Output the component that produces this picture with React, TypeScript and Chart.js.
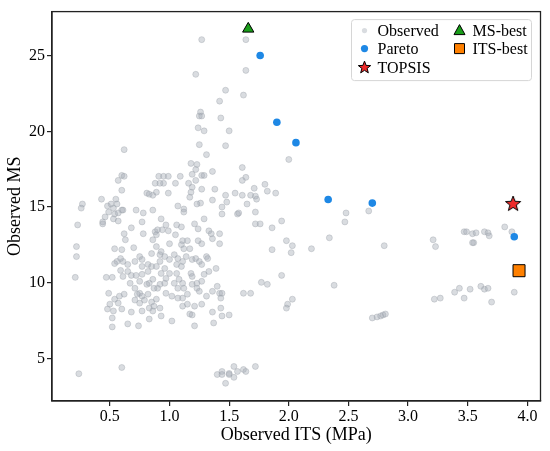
import { useEffect, useRef } from "react"
import { Chart, registerables } from "chart.js"

Chart.register(...registerables)

// observed designs, [ITS (MPa), MS]
const observed: [number, number][] = [
  [1.27, 26.05], [1.64, 26.05], [1.22, 23.76], [1.64, 24.02], [1.47, 22.71], [1.62, 22.39], [1.42, 21.99],
  [1.43, 20.88], [1.26, 21.27], [1.25, 21.01], [1.27, 21.01], [1.24, 20.23], [1.29, 20.03], [1.5, 20.03],
  [0.62, 18.79], [0.6, 17.09], [0.62, 17.03], [0.57, 16.76], [0.6, 16.11], [0.81, 15.92], [0.83, 15.85],
  [0.86, 15.78], [0.89, 15.98], [0.88, 16.57], [0.91, 17.03], [0.43, 15.52], [0.27, 15.2], [0.26, 14.93],
  [0.55, 15.52], [0.51, 15.2], [0.48, 15.07], [0.53, 14.93], [0.56, 15.2], [0.61, 14.8], [0.6, 14.8],
  [0.57, 14.61], [0.54, 14.54], [0.49, 14.67], [0.46, 14.35], [0.44, 14.02], [0.44, 13.89], [0.53, 14.22],
  [0.57, 14.08], [0.72, 14.8], [0.78, 14.61], [0.86, 14.8], [0.77, 14.02], [0.68, 13.63], [0.62, 13.24],
  [0.63, 12.84], [0.78, 13.24], [0.88, 13.37], [0.9, 13.5], [0.89, 13.17], [0.86, 12.84], [0.23, 13.82],
  [1.25, 19.12], [1.47, 19.05], [1.31, 18.46], [1.18, 17.88], [1.23, 17.81], [1.22, 17.48], [1.36, 17.35],
  [1.27, 17.09], [1.29, 17.09], [1.19, 17.16], [1.61, 17.61], [1.64, 16.96], [1.61, 16.76], [0.95, 17.03],
  [0.99, 17.03], [0.95, 16.57], [0.92, 16.57], [1.05, 16.57], [1.09, 17.03], [1.16, 16.57], [1.22, 16.76],
  [1.19, 16.31], [1.18, 15.98], [1.17, 15.65], [1.27, 16.18], [1.38, 16.18], [0.99, 15.92], [1.47, 15.78],
  [1.55, 15.92], [1.61, 15.78], [1.68, 15.78], [1.71, 16.24], [1.72, 15.72], [1.73, 15.52], [1.65, 15.2],
  [1.48, 15.33], [1.44, 15.0], [1.36, 15.46], [1.26, 15.26], [1.23, 15.2], [1.07, 15.07], [1.12, 14.87],
  [1.12, 14.67], [1.44, 14.54], [1.57, 14.54], [1.58, 14.61], [1.72, 14.67], [0.93, 14.22], [1.29, 14.22],
  [1.21, 13.89], [1.24, 13.56], [1.33, 13.43], [1.35, 13.24], [1.42, 13.24], [0.97, 13.82], [1.06, 13.82],
  [1.1, 13.69], [0.94, 13.5], [0.99, 13.43], [1.05, 13.17], [1.11, 12.78], [1.15, 12.78], [1.24, 12.78],
  [1.36, 12.91], [1.72, 13.89],
  [1.8, 16.5], [1.82, 16.05], [1.89, 15.92], [1.76, 13.89], [1.86, 13.63], [1.94, 14.08], [1.98, 12.78],
  [2.03, 12.45], [2.02, 11.99], [1.86, 12.19], [2.19, 12.25], [1.94, 10.49], [1.77, 10.03], [1.82, 9.9],
  [1.62, 9.31], [1.68, 9.31], [2.03, 8.92], [1.99, 8.59], [1.98, 8.33],
  [2.0, 18.14], [2.48, 14.61], [2.47, 14.02], [2.67, 14.74], [3.81, 13.69],
  [2.34, 12.97], [2.8, 12.45], [3.21, 12.84], [3.23, 12.39], [3.47, 13.37], [3.49, 13.37], [3.54, 13.24],
  [3.57, 13.3], [3.55, 12.65], [3.54, 12.65], [3.64, 13.37], [3.67, 13.3], [3.68, 13.1], [3.87, 13.37],
  [2.38, 9.84], [2.7, 7.68], [2.74, 7.75], [2.77, 7.81], [2.79, 7.88], [2.81, 7.94], [3.22, 8.92],
  [3.27, 8.99], [3.39, 9.38], [3.43, 9.64], [3.47, 8.99], [3.52, 9.58], [3.61, 9.77], [3.64, 9.58],
  [3.67, 9.64], [3.7, 8.73], [3.89, 9.38],
  [0.22, 12.39], [0.22, 11.73], [0.21, 10.36], [0.54, 12.25], [0.6, 12.19], [0.7, 12.32], [0.89, 12.39],
  [0.92, 11.86], [0.85, 11.93], [0.75, 11.73], [0.77, 11.54], [0.77, 11.08], [0.71, 11.41], [0.65, 11.21],
  [0.61, 11.41], [0.59, 11.6], [0.56, 11.41], [0.54, 11.27], [0.59, 10.82], [0.65, 10.75], [0.61, 10.42],
  [0.68, 10.49], [0.72, 10.49], [0.82, 11.21], [0.85, 11.08], [0.89, 11.08], [0.82, 10.75], [0.77, 10.56],
  [0.86, 10.23], [0.83, 9.97], [0.81, 9.9], [0.92, 9.9], [0.9, 9.64], [0.87, 9.64], [0.75, 10.1],
  [0.71, 9.64], [0.67, 9.97], [0.62, 9.25], [0.58, 9.12], [0.54, 8.92], [0.57, 8.66], [0.5, 8.59],
  [0.47, 10.36], [0.52, 10.36], [0.49, 9.31], [0.75, 9.31], [0.73, 9.25], [0.77, 9.12], [0.82, 9.25],
  [0.79, 8.86], [0.85, 8.73], [0.89, 8.92], [0.71, 8.86], [0.75, 8.66], [0.83, 8.33], [0.87, 8.46],
  [0.48, 8.27], [0.53, 8.14], [0.6, 8.27], [0.68, 8.07], [0.77, 8.14], [0.86, 8.14], [0.52, 7.68],
  [0.65, 7.29], [0.74, 7.16], [0.52, 7.09], [0.83, 7.61],
  [1.0, 12.58], [1.1, 12.52], [1.12, 12.25], [1.17, 12.25], [1.27, 12.58], [1.42, 12.58], [0.93, 12.06],
  [0.96, 11.73], [0.92, 11.41], [1.0, 11.54], [1.04, 11.86], [1.06, 11.21], [1.07, 11.6], [1.11, 11.41],
  [1.1, 11.08], [1.14, 11.73], [1.19, 11.54], [1.22, 11.6], [1.25, 11.41], [1.31, 11.73], [1.32, 11.6],
  [1.27, 11.21], [1.29, 10.56], [1.33, 10.75], [1.39, 10.95], [1.18, 10.62], [1.19, 10.42], [0.96, 10.95],
  [0.93, 10.62], [1.0, 10.62], [0.97, 10.29], [1.06, 10.62], [1.04, 9.97], [1.08, 10.23], [1.11, 9.97],
  [1.12, 9.64], [1.07, 9.64], [0.96, 9.97], [0.97, 9.31], [1.02, 9.12], [1.07, 8.99], [1.11, 8.99],
  [1.15, 9.25], [1.19, 9.9], [1.23, 9.97], [1.27, 10.1], [1.23, 9.64], [1.25, 9.44], [1.31, 9.12],
  [1.36, 9.44], [1.4, 9.77], [1.42, 9.31], [1.44, 9.31], [1.43, 8.99], [1.11, 8.46], [1.15, 8.59],
  [1.21, 8.46], [1.27, 8.59], [1.43, 8.33], [1.44, 7.81], [1.5, 7.88], [1.36, 8.07], [1.17, 7.94],
  [1.19, 7.88], [1.02, 7.48], [1.37, 7.35], [1.21, 7.16], [0.93, 7.81], [0.92, 8.33],
  [0.24, 4.0], [0.6, 4.41], [1.4, 3.95], [1.44, 4.15], [1.44, 3.95], [1.5, 4.02], [1.5, 3.95],
  [1.54, 4.48], [1.54, 3.76], [1.57, 4.15], [1.62, 4.28], [1.64, 4.15], [1.72, 4.48], [1.47, 3.37],
]

const pareto: [number, number][] = [
  [1.76, 25.0], [1.9, 20.6], [2.06, 19.25], [2.33, 15.5], [2.7, 15.26], [3.89, 13.04],
]
const topsis: [number, number] = [3.88, 15.2]
const msBest: [number, number] = [1.66, 26.76]
const itsBest: [number, number] = [3.93, 10.8]

const xTicks = [0.5, 1.0, 1.5, 2.0, 2.5, 3.0, 3.5, 4.0]
const yTicks = [5, 10, 15, 20, 25]

const FONT = "'Liberation Serif', 'Times New Roman', serif"
const GRAY = "rgba(165,172,180,0.42)"
const GRAY_EDGE = "rgba(150,157,165,0.45)"
const BLUE = "#1E88E5"
const RED = "#EE2A2A"
const GREEN = "#1A9E1A"
const ORANGE = "#FF8000"

const toPts = (arr: [number, number][]) => arr.map(([x, y]) => ({ x, y }))

function starPath(ctx: CanvasRenderingContext2D, cx: number, cy: number, R: number) {
  const r = R * 0.42
  ctx.beginPath()
  for (let i = 0; i < 10; i++) {
    const a = -Math.PI / 2 + (i * Math.PI) / 5
    const rad = i % 2 === 0 ? R : r
    const px = cx + Math.cos(a) * rad
    const py = cy + Math.sin(a) * rad
    if (i === 0) ctx.moveTo(px, py)
    else ctx.lineTo(px, py)
  }
  ctx.closePath()
}

function makeStar(R: number) {
  const c = document.createElement("canvas")
  const s = Math.ceil(R * 2 + 4)
  c.width = s
  c.height = s
  const ctx = c.getContext("2d")!
  starPath(ctx, s / 2, s / 2, R)
  ctx.fillStyle = RED
  ctx.fill()
  ctx.lineWidth = 1
  ctx.strokeStyle = "#000"
  ctx.stroke()
  return c
}

const framePlugin = {
  id: "frame",
  afterDatasetsDraw(chart: Chart) {
    const { ctx, chartArea: a } = chart
    ctx.save()
    ctx.strokeStyle = "#222"
    ctx.lineWidth = 1.3
    ctx.strokeRect(a.left, a.top, a.right - a.left, a.bottom - a.top)
    ctx.restore()
  },
}

const legendPlugin = {
  id: "boxLegend",
  afterDraw(chart: Chart) {
    const ctx = chart.ctx
    const a = chart.chartArea
    const bx = a.right - 189
    const by = a.top + 8
    const bw = 180
    const bh = 61
    ctx.save()
    ctx.beginPath()
    ctx.roundRect(bx, by, bw, bh, 3)
    ctx.fillStyle = "rgba(255,255,255,0.85)"
    ctx.fill()
    ctx.strokeStyle = "#d6d6d6"
    ctx.lineWidth = 1
    ctx.stroke()

    const c1 = bx + 13
    const c2 = bx + 108
    const r1 = by + 11
    const r2 = by + 29
    const r3 = by + 48

    // markers
    ctx.beginPath()
    ctx.arc(c1, r1, 2.6, 0, Math.PI * 2)
    ctx.fillStyle = GRAY
    ctx.fill()
    ctx.beginPath()
    ctx.arc(c1, r2, 3.6, 0, Math.PI * 2)
    ctx.fillStyle = BLUE
    ctx.fill()
    starPath(ctx, c1, r3, 6.5)
    ctx.fillStyle = RED
    ctx.fill()
    ctx.strokeStyle = "#000"
    ctx.stroke()
    ctx.beginPath()
    ctx.moveTo(c2, r1 - 6)
    ctx.lineTo(c2 + 5.5, r1 + 4)
    ctx.lineTo(c2 - 5.5, r1 + 4)
    ctx.closePath()
    ctx.fillStyle = GREEN
    ctx.fill()
    ctx.stroke()
    ctx.beginPath()
    ctx.rect(c2 - 5, r2 - 5, 10, 10)
    ctx.fillStyle = ORANGE
    ctx.fill()
    ctx.stroke()

    ctx.fillStyle = "#000"
    ctx.font = `16px ${FONT}`
    ctx.textBaseline = "middle"
    ctx.textAlign = "left"
    ctx.fillText("Observed", c1 + 13, r1 + 1)
    ctx.fillText("Pareto", c1 + 13, r2 + 1)
    ctx.fillText("TOPSIS", c1 + 13, r3 + 1)
    ctx.fillText("MS-best", c2 + 13, r1 + 1)
    ctx.fillText("ITS-best", c2 + 13, r2 + 1)
    ctx.restore()
  },
}

export default function App() {
  const chartRef = useRef<HTMLCanvasElement>(null)
  const chartInstance = useRef<Chart | null>(null)

  useEffect(() => {
    document.body.style.margin = "0"
    if (!chartRef.current) return
    if (chartInstance.current) chartInstance.current.destroy()
    const ctx = chartRef.current.getContext("2d")
    if (!ctx) return

    chartInstance.current = new Chart(ctx, {
      type: "scatter",
      data: {
        datasets: [
          {
            label: "Observed",
            data: toPts(observed),
            backgroundColor: GRAY,
            borderColor: GRAY_EDGE,
            borderWidth: 0.8,
            pointRadius: 3,
            order: 5,
          },
          {
            label: "Pareto",
            data: toPts(pareto),
            backgroundColor: BLUE,
            borderColor: BLUE,
            borderWidth: 0,
            pointRadius: 3.8,
            order: 4,
          },
          {
            label: "ITS-best",
            data: toPts([itsBest]),
            backgroundColor: ORANGE,
            borderColor: "#000",
            borderWidth: 1,
            pointStyle: "rect",
            pointRadius: 8.5,
            order: 3,
          },
          {
            label: "MS-best",
            data: toPts([msBest]),
            backgroundColor: GREEN,
            borderColor: "#000",
            borderWidth: 1,
            pointStyle: "triangle",
            pointRadius: 6.5,
            order: 2,
          },
          {
            label: "TOPSIS",
            data: toPts([topsis]),
            pointStyle: makeStar(8),
            pointRadius: 8,
            order: 1,
          },
        ],
      },
      options: {
        animation: false,
        responsive: true,
        maintainAspectRatio: false,
        layout: { padding: { left: 0, right: 7, top: 7, bottom: 0 } },
        plugins: {
          legend: { display: false },
          tooltip: { enabled: false },
        },
        scales: {
          x: {
            type: "linear",
            min: 0.015,
            max: 4.11,
            afterBuildTicks: (scale) => {
              scale.ticks = xTicks.map((v) => ({ value: v }))
            },
            afterFit: (scale) => {
              scale.height = 50
            },
            grid: { display: true, drawOnChartArea: false, drawTicks: true, tickLength: 5, color: "#222", lineWidth: 1.2 },
            border: { display: true, color: "#222", width: 1.3 },
            ticks: {
              color: "#000",
              font: { family: FONT, size: 16 },
              padding: 1,
              maxRotation: 0,
              callback: (v) => Number(v).toFixed(1),
            },
            title: {
              display: true,
              text: "Observed ITS (MPa)",
              color: "#000",
              font: { family: FONT, size: 18 },
              padding: { top: 0, bottom: 5 },
            },
          },
          y: {
            type: "linear",
            min: 2.2,
            max: 27.9,
            afterBuildTicks: (scale) => {
              scale.ticks = yTicks.map((v) => ({ value: v }))
            },
            afterFit: (scale) => {
              scale.width = 52
            },
            grid: { display: true, drawOnChartArea: false, drawTicks: true, tickLength: 5, color: "#222", lineWidth: 1.2 },
            border: { display: true, color: "#222", width: 1.3 },
            ticks: {
              color: "#000",
              font: { family: FONT, size: 16 },
              padding: 2,
              callback: (v) => String(v),
            },
            title: {
              display: true,
              text: "Observed MS",
              color: "#000",
              font: { family: FONT, size: 18 },
              padding: { top: 4, bottom: 0 },
            },
          },
        },
      },
      plugins: [framePlugin, legendPlugin],
    })

    return () => {
      if (chartInstance.current) {
        chartInstance.current.destroy()
        chartInstance.current = null
      }
    }
  }, [])

  return (
    <div style={{ width: 550, height: 451, position: "relative" }}>
      <canvas ref={chartRef} />
    </div>
  )
}
